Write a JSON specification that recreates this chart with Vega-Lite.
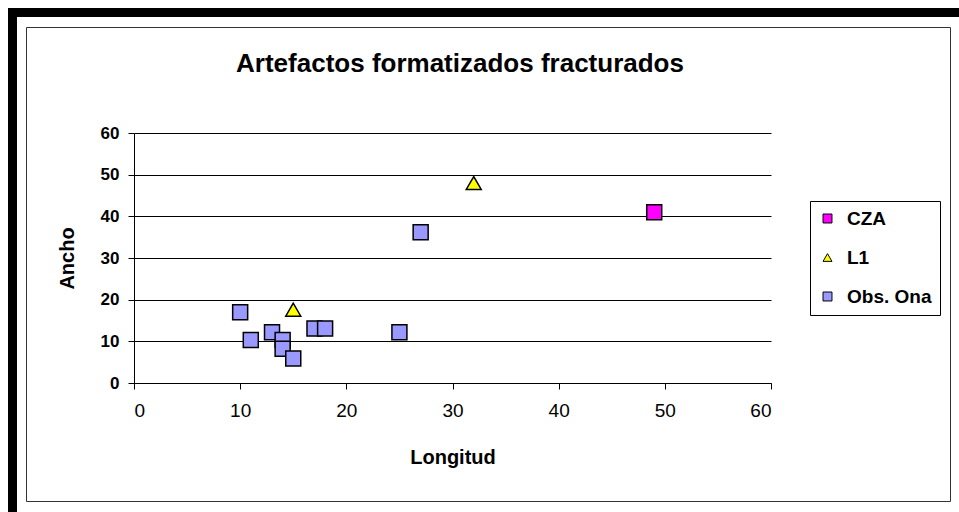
{
  "$schema": "https://vega.github.io/schema/vega-lite/v6.json",
  "padding": {"left": 8, "top": 8, "right": 0, "bottom": 0},
  "background": "white",
  "config": {"font": "Liberation Sans", "view": {"stroke": null}},
  "spacing": 0,
  "vconcat": [
    {"data": {"values": []}, "mark": "point", "width": 951, "height": 9, "view": {"fill": "black", "stroke": null}},
    {
      "spacing": 8,
      "hconcat": [
        {"data": {"values": []}, "mark": "point", "width": 9, "height": 495, "view": {"fill": "black", "stroke": null}},
        {
          "spacing": 8,
          "vconcat": [
            {"data": {"values": []}, "mark": "point", "width": 924, "height": 1, "view": {"stroke": null}},
            {
              "width": 924,
              "height": 474,
              "view": {"stroke": "#333333", "strokeWidth": 1, "fill": "white"},
              "title": {"text": "Artefactos formatizados fracturados", "fontSize": 26, "fontWeight": "bold", "color": "black", "anchor": "middle", "orient": "top", "offset": -71, "baseline": "alphabetic", "dx": -28, "frame": "group"},
              "data": {"values": [
                {"Serie": "Obs. Ona", "Longitud": 10, "Ancho": 17},
                {"Serie": "Obs. Ona", "Longitud": 11, "Ancho": 10.3},
                {"Serie": "Obs. Ona", "Longitud": 13, "Ancho": 12.2},
                {"Serie": "Obs. Ona", "Longitud": 14, "Ancho": 10.3},
                {"Serie": "Obs. Ona", "Longitud": 14, "Ancho": 8.2},
                {"Serie": "Obs. Ona", "Longitud": 15, "Ancho": 5.9},
                {"Serie": "Obs. Ona", "Longitud": 17, "Ancho": 13.1},
                {"Serie": "Obs. Ona", "Longitud": 18, "Ancho": 13.1},
                {"Serie": "Obs. Ona", "Longitud": 25, "Ancho": 12.2},
                {"Serie": "Obs. Ona", "Longitud": 27, "Ancho": 36.2},
                {"Serie": "L1", "Longitud": 15, "Ancho": 17.6},
                {"Serie": "L1", "Longitud": 32, "Ancho": 48},
                {"Serie": "CZA", "Longitud": 49, "Ancho": 41}
              ]},
              "mark": {"type": "point", "filled": true, "stroke": "black", "strokeWidth": 1.5, "opacity": 1, "size": 225},
              "encoding": {
                "x": {
                  "field": "Longitud", "type": "quantitative",
                  "scale": {"domain": [0, 60], "range": [108, 745], "nice": false, "zero": false},
                  "axis": {"values": [0, 10, 20, 30, 40, 50, 60], "offset": -118, "grid": false, "domainColor": "black", "tickColor": "black", "tickSize": 6, "labelFontSize": 19, "labelColor": "black", "labelPadding": 12, "title": "Longitud", "titleFontSize": 20, "titleFontWeight": "bold", "titleColor": "black", "titlePadding": 27}
                },
                "y": {
                  "field": "Ancho", "type": "quantitative",
                  "scale": {"domain": [0, 60], "range": [356, 106], "nice": false, "zero": false},
                  "axis": {"values": [0, 10, 20, 30, 40, 50, 60], "offset": -108, "grid": true, "gridColor": "black", "gridWidth": 1, "domainColor": "black", "tickColor": "black", "tickSize": 6, "labelFontSize": 17, "labelFontWeight": "bold", "labelColor": "black", "labelPadding": 9, "title": "Ancho", "titleFontSize": 20, "titleFontWeight": "bold", "titleColor": "black", "titlePadding": 23}
                },
                "color": {
                  "field": "Serie", "type": "nominal",
                  "scale": {"domain": ["CZA", "L1", "Obs. Ona"], "range": ["#FF00FF", "#FFFF00", "#9999FF"]},
                  "legend": {"orient": "none", "legendX": 802, "legendY": 193, "title": null, "strokeColor": "black", "fillColor": "white", "padding": 8, "labelFontSize": 19, "labelFontWeight": "bold", "labelColor": "black", "symbolSize": 80, "symbolStrokeColor": "black", "symbolStrokeWidth": 1, "rowPadding": 19, "labelOffset": 10}
                },
                "shape": {
                  "field": "Serie", "type": "nominal",
                  "scale": {"domain": ["CZA", "L1", "Obs. Ona"], "range": ["square", "triangle-up", "square"]},
                  "legend": {"orient": "none", "legendX": 802, "legendY": 193, "title": null, "strokeColor": "black", "fillColor": "white", "padding": 8, "labelFontSize": 19, "labelFontWeight": "bold", "labelColor": "black", "symbolSize": 80, "symbolStrokeColor": "black", "symbolStrokeWidth": 1, "rowPadding": 19, "labelOffset": 10}
                }
              }
            }
          ]
        }
      ]
    }
  ]
}
